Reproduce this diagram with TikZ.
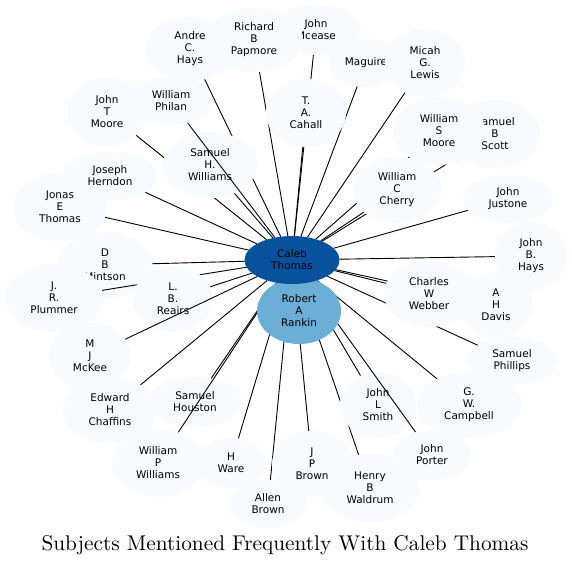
\documentclass[tikz,border=0pt]{standalone}
\usepackage{fontspec}
\newfontfamily\nodefont{DejaVu Sans}
\usetikzlibrary{shapes.geometric}
\definecolor{leaf}{HTML}{F7FBFF}
\definecolor{hub}{HTML}{08519C}
\definecolor{second}{HTML}{6BAED6}
\pgfdeclarelayer{bg}
\pgfdeclarelayer{nodesA}
\pgfdeclarelayer{midedges}
\pgfdeclarelayer{calebL}
\pgfdeclarelayer{topedges}
\pgfsetlayers{bg,nodesA,midedges,main,calebL,topedges}
\tikzset{
  person/.style={ellipse, fill=leaf, inner sep=0pt, outer sep=0pt, align=center,
    font=\nodefont\fontsize{10.5}{12}\selectfont, text=black},
  link/.style={draw=black, line width=0.9pt},
  titletext/.style={inner sep=0pt, text=black},
}
\newcommand\pnode[7][]{\node[person,#1,minimum width=2*#5pt,minimum height=2*#6pt] (#2) at (#3,#4) {#7};}
\begin{document}
\begin{tikzpicture}[x=1pt,y=-1pt]
\useasboundingbox (0,0) rectangle (572,566);
\begin{pgfonlayer}{bg}
  \fill[white] (0,0) rectangle (572,566);
\end{pgfonlayer}
% nodes covered by other nodes or crossed by connectors
\begin{pgfonlayer}{nodesA}
  \pnode{johnc}{316}{30}{44}{25}{John\\Mcease}
  \pnode{maguire}{366}{63}{37}{24}{Maguire}
  \pnode{scott}{495}{134}{45}{34}{Samuel\\B\\Scott}
  \pnode{mintson}{105}{265}{47}{33}{D\\B\\Mintson}
  \pnode{shw}{210}{165}{47}{33}{Samuel\\H.\\Williams}
  \pnode{jlsmith}{378}{405}{38}{33}{John\\L\\Smith}
  \pnode{houston}{195}{402}{47}{25}{Samuel\\Houston}
\end{pgfonlayer}
% main nodes
\pnode{andre}{190}{49}{45}{32}{Andre\\C.\\Hays}
\pnode{richard}{254}{40}{48.5}{32}{Richard\\B\\Papmore}
\pnode{micah}{425}{63}{40}{34}{Micah\\G.\\Lewis}
\pnode{cahall}{306}{113}{40}{34}{T.\\A.\\Cahall}
\pnode{jtmoore}{107}{112}{40}{34}{John\\T\\Moore}
\pnode{philan}{171}{101}{41}{24}{William\\Philan}
\pnode{jonas}{60}{207}{47}{34}{Jonas\\E\\Thomas}
\pnode{herndon}{110}{176}{48}{24}{Joseph\\Herndon}
\pnode{plummer}{54}{298}{49}{34}{J.\\R.\\Plummer}
\pnode{reairs}{173}{299}{40}{33}{L.\\B.\\Reairs}
\pnode{mckee}{90}{356}{41}{33}{M\\J\\McKee}
\pnode{chaffins}{110}{410}{47}{33}{Edward\\H\\Chaffins}
\pnode{wpw}{158}{463}{46}{34}{William\\P\\Williams}
\pnode{ware}{231}{463}{35}{25}{H\\Ware}
\pnode{waldrum}{370}{488}{50}{34}{Henry\\B\\Waldrum}
\pnode{jpbrown}{312}{464}{40}{33}{J\\P\\Brown}
\pnode{allen}{268}{504}{40}{24}{Allen\\Brown}
\pnode{porter}{432}{455}{39}{25}{John\\Porter}
\pnode{campbell}{469}{405}{52}{33}{G.\\W.\\Campbell}
\pnode{phillips}{512}{361}{45}{24}{Samuel\\Phillips}
\pnode{davis}{496}{305}{37}{33}{A\\H\\Davis}
\pnode{webber}{429}{294}{45}{33}{Charles\\W\\Webber}
\pnode{jbhays}{531}{256}{36}{34}{John\\B.\\Hays}
\pnode{justone}{508}{199}{45}{24}{John\\Justone}
\pnode{wsmoore}{439}{131}{46}{34}{William\\S\\Moore}
\pnode{cherry}{397}{190}{44}{33}{William\\C\\Cherry}
\pnode[fill=second]{rankin}{299}{311}{42}{33}{Robert\\A\\Rankin}
\begin{pgfonlayer}{calebL}
  \pnode[fill=hub]{caleb}{292}{260}{47.5}{24}{Caleb\\Thomas}
\end{pgfonlayer}
% title
\node[titletext] (title) at (285,545.5) {\scalebox{2.13}{\fontsize{10}{12}\selectfont Subjects Mentioned Frequently With Caleb Thomas}};
% connectors
\begin{pgfonlayer}{bg}
  \foreach \n in {johnc,maguire,scott,mintson,shw,jlsmith,houston,andre,richard,
    micah,cahall,jtmoore,herndon,jonas,reairs,chaffins,ware,allen,jpbrown,waldrum,
    campbell,phillips,webber,davis,jbhays,justone,wsmoore,cherry}
    \draw[link] (caleb) -- (\n);
\end{pgfonlayer}
\begin{pgfonlayer}{midedges}
  \foreach \n in {plummer,philan,wpw,porter}
    \draw[link] (caleb) -- (\n);
\end{pgfonlayer}
\draw[link] (caleb) -- (rankin);
\begin{pgfonlayer}{topedges}
  \draw[link] (caleb) -- (mckee);
\end{pgfonlayer}
\end{tikzpicture}
\end{document}
